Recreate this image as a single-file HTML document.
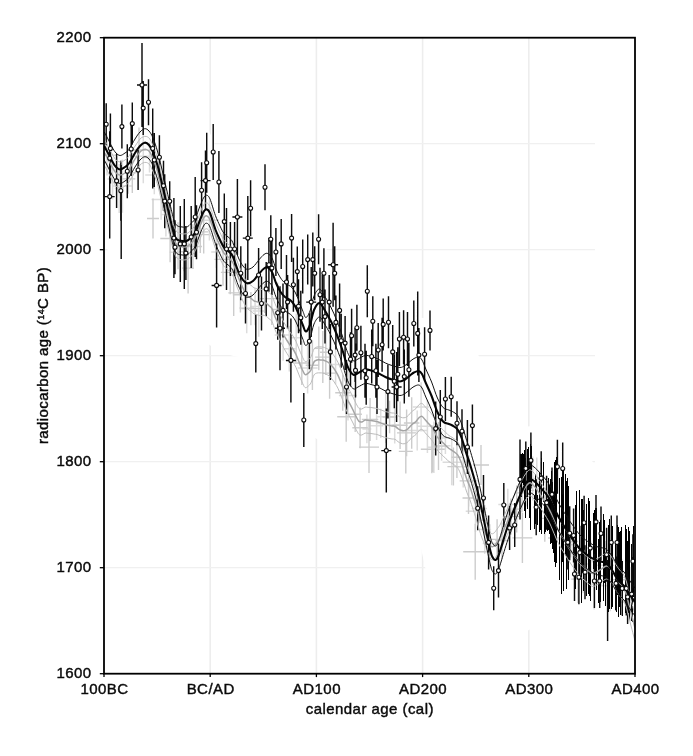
<!DOCTYPE html>
<html lang="en"><head><meta charset="utf-8"><title>Radiocarbon calibration curve</title>
<style>html,body{margin:0;padding:0;background:#fff}body{width:693px;height:756px;overflow:hidden}svg{display:block}text{font-family:"Liberation Sans",Arial,Helvetica,sans-serif;font-size:15px;letter-spacing:0.45px;fill:#0a0a0a;stroke:#0a0a0a;stroke-width:0.42px}</style></head><body>
<svg width="693" height="756" viewBox="0 0 693 756">
<rect width="693" height="756" fill="#fff"/>
<defs><clipPath id="c"><rect x="104.0" y="37.7" width="531.0" height="636.0"/></clipPath></defs>
<g stroke="#ededed" stroke-width="1.6" fill="none">
<line x1="210.2" y1="37.7" x2="210.2" y2="673.7"/>
<line x1="316.4" y1="37.7" x2="316.4" y2="673.7"/>
<line x1="422.6" y1="37.7" x2="422.6" y2="673.7"/>
<line x1="528.8" y1="37.7" x2="528.8" y2="673.7"/>
</g>
<g stroke="#f0f0f0" stroke-width="1.2" fill="none">
<line x1="104.0" y1="143.7" x2="595.0" y2="143.7"/>
<line x1="104.0" y1="249.7" x2="595.0" y2="249.7"/>
<line x1="104.0" y1="355.7" x2="595.0" y2="355.7"/>
<line x1="104.0" y1="461.7" x2="595.0" y2="461.7"/>
<line x1="104.0" y1="567.7" x2="595.0" y2="567.7"/>
</g>
<g clip-path="url(#c)">
<path d="M104.3 146.0C106.2 149.5 111.9 164.1 116.0 167.0C120.1 169.9 124.1 167.6 128.9 163.5C133.7 159.4 139.9 142.3 144.7 142.7C149.5 143.1 152.8 150.8 157.7 166.0C162.6 181.2 169.1 221.5 173.9 234.0C178.7 246.5 182.2 243.3 186.6 241.0C190.9 238.7 196.1 224.7 200.0 220.0C203.9 215.3 206.0 208.4 210.0 213.0C214.0 217.6 219.3 237.7 224.1 247.5C228.8 257.3 233.7 266.4 238.5 272.0C243.3 277.6 248.1 281.8 253.0 281.0C257.9 280.2 263.2 265.7 267.8 267.5C272.4 269.3 276.1 285.6 280.6 292.0C285.1 298.4 290.8 299.4 295.0 306.0C299.2 312.6 301.8 332.0 305.9 331.5C309.9 331.0 314.1 302.4 319.3 303.0C324.5 303.6 332.0 323.8 337.0 335.0C342.0 346.2 344.6 364.2 349.3 370.0C354.0 375.8 359.2 368.3 365.2 369.5C371.2 370.7 378.8 375.3 385.4 377.0C392.0 378.7 399.5 380.5 405.0 379.5C410.5 378.5 414.2 368.2 418.6 371.0C423.0 373.8 426.6 387.2 431.6 396.0C436.7 404.8 443.8 416.8 448.9 424.0C454.0 431.2 457.2 427.8 462.0 439.0C466.8 450.2 472.5 471.7 477.7 491.5C482.9 511.3 489.1 548.6 493.0 558.0C496.9 567.4 496.2 559.0 501.0 548.0C505.8 537.0 516.1 503.2 521.6 492.0C527.1 480.8 527.8 476.8 534.0 481.0C540.2 485.2 549.3 504.3 558.6 517.0C567.9 529.7 581.1 548.2 590.0 557.0C598.9 565.8 605.3 563.7 612.0 570.0C618.7 576.3 627.0 590.8 630.0 595.0" stroke="#fff" stroke-width="130" fill="none" stroke-linecap="round" stroke-linejoin="round" transform="translate(0 12)"/>
<path d="M97.5 155.3H116.5M107.0 135.3V175.4M107.5 179.0H117.8M112.6 158.3V199.6M114.7 188.6H123.8M119.2 164.0V213.1M112.5 186.1H132.3M122.4 159.6V212.7M133.3 156.3H153.3M143.3 129.4V183.3M143.8 157.5H155.2M149.5 142.6V172.5M145.2 175.1H163.4M154.3 156.1V194.2M151.6 199.6H170.6M161.1 179.5V219.7M161.5 214.4H170.3M165.9 192.2V236.6M169.6 252.3H178.8M174.2 237.5V267.1M199.6 220.2H219.1M209.4 200.0V240.5M211.2 251.9H221.4M216.3 235.9V267.9M239.3 308.1H254.0M246.7 283.0V333.2M250.1 306.5H260.2M255.1 287.7V325.2M252.5 311.1H264.9M258.7 285.5V336.7M274.7 335.1H291.5M283.1 309.4V360.8M283.1 348.7H295.4M289.3 325.8V371.6M289.7 337.8H302.7M296.2 313.5V362.1M297.7 367.9H317.6M307.6 342.5V393.4M330.4 364.5H340.8M335.6 344.9V384.1M338.9 395.5H357.0M348.0 370.4V420.5M362.4 428.9H371.3M366.9 414.5V443.3M369.9 425.7H383.3M376.6 411.4V440.0M375.8 423.4H385.5M380.7 408.8V438.0M376.8 416.7H394.5M385.7 390.2V443.1M389.1 425.1H400.3M394.7 406.6V443.6M407.6 430.5H426.9M417.2 410.5V450.5M412.8 407.0H429.5M421.1 382.3V431.6M417.5 426.2H437.3M427.4 399.5V452.9M428.0 447.2H439.9M433.9 421.4V473.1M432.8 445.8H450.5M441.6 431.0V460.7M440.6 438.0H450.2M445.4 422.1V454.0M442.6 462.3H460.7M451.7 439.3V485.3M455.3 466.8H471.0M463.2 446.0V487.6M465.7 511.2H485.3M475.5 490.4V532.0M471.8 508.5H487.0M479.4 494.2V522.9M478.3 529.4H491.1M484.7 505.0V553.8M482.7 543.6H497.2M489.9 524.3V563.0M498.3 504.4H517.4M507.8 488.8V520.1M523.6 478.5H541.8M532.7 456.5V500.4M528.3 481.9H545.2M536.8 457.4V506.5M535.9 488.7H546.5M541.2 461.7V515.7M550.2 513.7H558.4M554.3 497.1V530.4M554.4 539.5H568.4M561.4 515.6V563.4M565.5 553.0H583.6M574.6 526.1V579.9M576.0 573.7H590.2M583.1 554.1V593.3M581.1 564.1H591.3M586.2 544.2V584.0M585.8 557.7H596.2M591.0 541.6V573.9M585.8 584.3H602.3M594.1 559.1V609.5M591.3 561.8H606.5M598.9 541.2V582.3M597.0 565.2H614.0M605.5 541.1V589.4M601.0 585.8H619.7M610.3 560.4V611.2M617.8 577.4H626.0M621.9 558.8V596.0M619.7 602.2H635.7M627.7 583.8V620.6" stroke="#dcdcdc" stroke-width="1.5" fill="none"/>
<path d="M121.0 178.9H135.3M128.2 164.1V193.7M128.1 172.9H136.4M132.3 152.8V192.9M132.1 150.0H146.0M139.0 127.4V172.6M160.3 238.5H179.9M170.1 214.6V262.3M172.9 245.7H183.2M178.0 222.2V269.2M179.2 251.7H188.6M183.9 232.3V271.2M182.3 268.1H193.9M188.1 242.6V293.6M183.8 246.5H202.0M192.9 224.2V268.9M191.7 234.6H209.0M200.3 216.3V252.9M199.1 231.9H208.2M203.7 210.3V253.4M214.5 259.4H231.4M223.0 233.2V285.7M220.9 272.4H239.5M230.2 250.6V294.2M228.3 292.9H239.1M233.7 269.7V316.0M232.8 294.7H248.0M240.4 276.9V312.5M241.4 308.6H260.4M250.9 292.0V325.3M259.8 298.6H269.5M264.7 284.1V313.0M263.6 298.6H280.0M271.8 272.0V325.1M271.7 309.5H283.5M277.6 282.5V336.5M294.3 363.0H309.3M301.8 341.1V384.9M305.7 365.2H319.0M312.4 340.3V390.1M314.6 348.4H322.9M318.8 326.6V370.2M315.1 357.1H330.5M322.8 331.1V383.0M320.0 352.2H331.7M325.8 329.4V375.0M323.0 373.1H336.3M329.6 347.5V398.7M335.2 392.7H350.2M342.7 374.6V410.8M348.5 414.3H361.9M355.2 396.7V431.9M352.3 427.8H367.8M360.1 407.4V448.2M361.8 419.4H378.3M370.1 398.0V440.9M382.7 417.0H396.4M389.6 400.7V433.3M392.4 425.3H407.7M400.1 401.5V449.1M397.0 432.9H416.2M406.6 409.5V456.3M403.9 423.0H419.4M411.7 397.2V448.8M431.2 446.1H445.8M438.5 422.1V470.1M451.5 457.2H462.2M456.9 436.3V478.0M459.6 480.9H477.7M468.7 455.2V506.6M491.5 539.4H502.7M497.1 519.3V559.6M495.2 540.6H508.9M502.0 522.4V558.7M502.8 516.6H519.1M510.9 498.4V534.7M512.1 509.1H521.4M516.7 485.6V532.6M514.8 492.9H529.2M522.0 473.2V512.6M519.7 490.4H534.1M526.9 474.3V506.5M539.4 518.4H550.2M544.8 494.9V541.8M539.5 511.5H557.0M548.2 495.8V527.1M562.4 544.8H572.6M567.5 529.9V559.7M563.3 541.5H578.1M570.7 525.6V557.4M571.2 579.1H584.8M578.0 555.1V603.0M608.5 579.7H625.1M616.8 564.8V594.6M463.2 551.7H487.2M475.2 523.7V579.7M473.0 465.0H489.0M481.0 445.0V485.0M421.8 449.2H441.8M431.8 425.2V473.2M512.4 537.9H532.4M522.4 512.9V562.9M337.2 416.8H355.2M346.2 391.8V441.8M359.0 447.1H379.0M369.0 421.1V473.1M398.8 451.4H412.8M405.8 429.4V473.4M420.8 449.3H444.8M432.8 426.3V472.3M447.4 466.6H459.4M453.4 447.6V485.6M462.5 498.0H474.5M468.5 482.0V514.0M147.0 218.5H159.0M153.0 198.5V238.5M548.0 538.0H564.0M556.0 516.0V560.0" stroke="#cccccc" stroke-width="1.4" fill="none"/>
<path d="M520.5 453.5V487.1M521.5 453.5V496.7M522.5 452.7V482.7M523.5 454.4V485.4M524.5 449.6V510.7M525.5 458.2V518.2M527.5 448.9V508.7M528.5 446.6V490.2M529.5 462.2V518.4M530.5 443.5V529.9M531.5 445.5V486.1M534.5 495.1V529.2M535.5 474.0V523.8M537.5 494.9V524.9M539.5 471.9V531.8M540.5 497.7V530.1M541.5 457.6V533.6M543.5 462.1V502.2M544.5 504.3V534.3M545.5 500.1V531.8M547.5 499.2V531.3M548.5 477.8V530.1M549.5 484.8V534.4M550.5 479.1V544.4M551.5 470.5V542.9M552.5 481.7V548.8M553.5 493.5V552.9M554.5 461.6V562.1M555.5 460.2V566.6M556.5 456.8V562.5M559.5 478.3V580.1M561.5 476.5V593.7M562.5 455.1V561.6M563.5 467.9V591.4M565.5 474.0V555.9M566.5 481.4V589.0M567.5 477.9V556.8M568.5 485.5V579.5M575.5 504.7V588.9M576.5 490.6V573.2M579.5 489.7V563.4M581.5 499.3V602.7M582.5 498.7V572.5M583.5 509.5V591.4M586.5 503.6V595.6M588.5 497.6V593.9M589.5 500.6V596.3M590.5 523.2V601.1M593.5 513.0V568.5M594.5 510.3V601.5M595.5 507.7V572.2M596.5 507.8V589.8M598.5 539.0V602.7M599.5 522.4V572.2M600.5 519.6V601.9M603.5 514.2V601.0M604.5 520.0V582.6M605.5 557.1V605.5M608.5 525.2V611.5M609.5 519.0V609.2M611.5 527.5V608.6M612.5 525.7V607.1M615.5 541.3V610.4M616.5 559.9V611.5M617.5 524.7V594.5M618.5 526.9V616.6M619.5 531.7V607.4M620.5 531.2V615.3M621.5 527.4V590.8M622.5 560.6V615.9M625.5 525.0V612.5M626.5 529.0V608.2M627.5 541.4V612.3M628.5 527.2V613.3M629.5 530.9V620.0M631.5 543.9V614.6M632.5 557.0V621.8M633.5 525.6V596.8" stroke="#000" stroke-width="1" fill="none" shape-rendering="crispEdges"/>
<path d="M106.2 103.3V145.3M110.4 113.5V183.5M109.7 131.2V185.2M116.6 153.9V207.9M109.7 154.6V238.6M104.7 196.6H114.7M121.9 104.6V148.6M120.8 160.8V220.8M127.3 144.2V198.2M132.3 102.6V144.6M131.2 122.0V176.0M138.1 150.0V190.0M142.0 43.0V127.0M137.0 85.0H147.0M143.2 81.1V135.1M148.5 79.3V125.3M152.7 108.5V188.5M154.3 133.0V187.0M159.4 135.3V179.3M163.5 160.8V210.8M164.7 174.2V228.2M169.7 181.2V221.2M195.2 177.0V257.0M201.6 162.2V218.2M205.5 150.6V210.6M200.5 180.6H210.5M206.7 132.8V192.8M213.2 124.0V180.0M218.9 151.0V213.0M224.3 193.6V249.6M237.4 179.0V255.0M232.4 217.0H242.4M250.6 180.3V236.3M173.9 198.1V278.1M175.0 220.3V274.3M180.3 205.9V281.9M184.3 198.9V288.9M185.9 226.1V280.1M191.2 206.0V268.0M196.5 205.3V259.3M216.6 243.4V327.4M211.6 285.4H221.6M226.5 208.0V290.0M230.4 222.0V276.0M234.6 222.0V276.0M240.8 246.2V300.2M245.5 263.5V323.5M247.8 196.1V280.1M242.8 238.1H252.8M258.6 248.0V302.0M265.0 164.3V210.3M270.8 215.3V263.3M275.9 228.0V276.0M281.2 218.9V268.9M291.6 214.1V262.1M268.9 237.7V291.7M271.9 241.1V295.1M266.2 261.9V315.9M261.5 276.5V330.5M286.5 255.0V309.0M293.4 257.8V311.8M297.3 246.6V296.6M302.7 239.5V293.5M307.7 234.6V284.6M312.8 232.6V286.6M314.7 246.2V300.2M318.6 214.3V264.3M323.9 248.2V298.2M320.0 267.7V321.7M311.2 267.1V337.1M306.2 302.1H316.2M322.3 275.1V329.1M329.2 275.1V329.1M333.1 222.7V306.7M328.1 264.7H338.1M334.7 246.2V300.2M287.6 275.1V329.1M298.5 279.2V333.2M277.7 285.7V339.7M283.0 283.4V337.4M300.8 290.8V344.8M280.0 286.2V370.2M275.0 328.2H285.0M325.0 289.6V343.6M339.6 283.4V337.4M335.9 295.4V349.4M367.3 265.2V317.2M372.8 296.2V346.2M383.2 298.4V350.4M388.5 296.2V348.2M356.9 304.7V350.7M255.8 314.6V372.6M290.9 318.4V402.4M285.9 360.4H295.9M309.4 313.3V369.3M303.8 393.0V447.0M330.4 323.9V379.9M341.2 313.8V367.8M345.1 316.1V370.1M346.5 360.0V414.0M351.6 308.7V362.7M350.5 332.3V386.3M355.1 328.1V382.1M355.5 343.4V397.4M360.9 325.8V379.8M365.0 343.8V397.8M366.2 350.8V404.8M371.7 329.5V383.5M375.9 343.8V397.8M377.0 360.0V414.0M378.2 323.0V377.0M382.1 317.7V371.7M387.9 364.6V418.6M392.7 324.9V378.9M394.3 354.2V408.2M396.6 352.0V422.0M391.6 387.0H401.6M397.8 347.3V401.3M399.4 312.0V366.0M403.6 310.3V364.3M404.3 349.6V403.6M407.5 312.0V366.0M408.9 342.7V396.7M413.8 300.5V346.5M417.7 291.4V375.4M418.9 328.1V382.1M424.6 327.2V381.2M430.0 310.4V350.4M445.4 377.0V421.0M451.2 376.7V416.7M440.3 390.0V444.0M435.7 401.6V455.6M457.0 401.3V445.3M462.0 409.3V453.3M472.4 404.6V446.6M467.4 420.0V474.0M386.3 408.6V492.6M381.3 450.6H391.3M483.5 475.0V521.0M477.7 486.2V530.2M488.6 515.4V569.4M493.7 566.3V610.3M498.5 543.6V597.6M503.8 483.0V527.0M509.6 506.0V550.0M514.7 503.0V547.0M520.0 439.4V519.4M525.8 441.5V495.5M530.9 432.4V488.4M536.2 479.3V535.3M541.2 451.2V505.2M546.6 475.7V529.7M552.0 467.4V521.4M557.4 439.7V493.7M562.7 442.5V494.5M567.8 515.4V569.4M569.7 506.2V560.2M573.6 508.5V562.5M574.5 547.0V601.0M578.9 550.2V604.2M584.1 495.8V549.8M596.0 494.9V548.9M601.0 506.5V560.5M611.3 515.5V569.5M617.0 515.5V569.5M590.3 521.1V575.1M579.8 525.8V579.8M606.6 527.7V581.7M632.9 534.3V588.3M585.0 545.2V599.2M594.4 554.0V608.0M599.7 554.0V608.0M616.0 556.4V610.4M622.2 561.5V615.5M626.3 561.5V615.5M631.6 567.1V621.1M627.6 570.0V624.0M607.6 560V641M121.2 165V259" stroke="#0c0c0c" stroke-width="1.45" fill="none"/>
<path d="M104.0 139.0C104.5 139.9 106.0 142.3 107.0 144.1C108.0 145.9 109.0 148.1 110.0 150.0C111.0 151.9 112.0 153.8 113.0 155.5C114.0 157.2 115.0 159.0 116.0 160.0C117.0 161.0 118.0 161.5 119.0 161.8C120.0 162.0 121.0 161.9 122.0 161.6C123.0 161.3 124.0 160.7 125.0 160.0C126.0 159.3 127.0 158.5 128.0 157.3C129.0 156.1 130.0 154.5 131.0 152.9C132.0 151.3 133.0 149.3 134.0 147.7C135.0 146.1 136.0 144.7 137.0 143.2C138.0 141.7 139.0 140.1 140.0 139.0C141.0 137.9 142.0 137.3 143.0 136.9C144.0 136.5 145.0 136.2 146.0 136.4C147.0 136.6 148.0 136.9 149.0 138.0C150.0 139.1 151.0 141.1 152.0 143.2C153.0 145.4 154.0 148.1 155.0 151.0C156.0 153.8 157.0 156.6 158.0 160.2C159.0 163.9 160.0 168.5 161.0 172.7C162.0 176.9 163.0 181.0 164.0 185.3C165.0 189.5 166.0 193.9 167.0 198.1C168.0 202.4 169.0 206.7 170.0 210.9C171.0 215.1 172.0 220.0 173.0 223.3C174.0 226.6 175.0 229.1 176.0 230.7C177.0 232.4 178.0 232.7 179.0 233.2C180.0 233.7 181.0 233.7 182.0 233.8C183.0 234.0 184.0 234.1 185.0 233.9C186.0 233.8 187.0 233.6 188.0 233.0C189.0 232.4 190.0 231.4 191.0 230.3C192.0 229.3 193.0 228.5 194.0 226.9C195.0 225.3 196.0 223.1 197.0 220.8C198.0 218.5 199.0 215.4 200.0 213.0C201.0 210.6 202.0 207.9 203.0 206.1C204.0 204.4 205.0 202.9 206.0 202.7C207.0 202.5 208.0 203.3 209.0 204.9C210.0 206.5 211.0 209.4 212.0 212.1C213.0 214.8 214.0 218.6 215.0 221.3C216.0 224.0 217.0 226.2 218.0 228.4C219.0 230.7 220.0 232.8 221.0 234.8C222.0 236.8 223.0 239.0 224.0 240.3C225.0 241.7 226.0 242.1 227.0 243.0C228.0 243.9 229.0 244.7 230.0 245.9C231.0 247.1 232.0 248.0 233.0 250.0C234.0 252.1 235.0 255.6 236.0 258.2C237.0 260.8 238.0 263.4 239.0 265.9C240.0 268.4 241.0 270.8 242.0 273.0C243.0 275.2 244.0 277.4 245.0 279.1C246.0 280.8 247.0 282.1 248.0 283.2C249.0 284.2 250.0 284.5 251.0 285.3C252.0 286.1 253.0 287.2 254.0 287.8C255.0 288.4 256.0 288.3 257.0 288.7C258.0 289.0 259.0 289.6 260.0 289.7C261.0 289.8 262.0 289.1 263.0 289.2C264.0 289.3 265.0 289.6 266.0 290.2C267.0 290.8 268.0 291.8 269.0 292.7C270.0 293.6 271.0 293.8 272.0 295.7C273.0 297.5 274.0 301.3 275.0 303.7C276.0 306.1 277.0 308.0 278.0 310.1C279.0 312.2 280.0 314.3 281.0 316.4C282.0 318.4 283.0 320.6 284.0 322.5C285.0 324.3 286.0 325.9 287.0 327.5C288.0 329.1 289.0 330.7 290.0 332.1C291.0 333.5 292.0 334.5 293.0 336.0C294.0 337.6 295.0 339.3 296.0 341.5C297.0 343.6 298.0 346.5 299.0 348.9C300.0 351.3 301.0 354.0 302.0 356.0C303.0 358.1 304.0 360.8 305.0 361.5C306.0 362.2 307.0 361.1 308.0 360.3C309.0 359.5 310.0 358.7 311.0 356.8C312.0 354.9 313.0 350.6 314.0 349.0C315.0 347.4 316.0 347.4 317.0 347.0C318.0 346.7 319.0 346.9 320.0 346.9C321.0 346.9 322.0 346.8 323.0 347.1C324.0 347.3 325.0 347.7 326.0 348.2C327.0 348.7 328.0 349.0 329.0 349.8C330.0 350.6 331.0 351.8 332.0 353.1C333.0 354.3 334.0 355.7 335.0 357.2C336.0 358.8 337.0 360.3 338.0 362.4C339.0 364.5 340.0 367.1 341.0 369.6C342.0 372.2 343.0 375.0 344.0 377.7C345.0 380.4 346.0 383.6 347.0 385.8C348.0 388.1 349.0 389.4 350.0 391.2C351.0 393.1 352.0 395.0 353.0 397.0C354.0 399.0 355.0 401.5 356.0 403.4C357.0 405.3 358.0 407.5 359.0 408.4C360.0 409.3 361.0 409.1 362.0 408.9C363.0 408.7 364.0 407.4 365.0 407.1C366.0 406.9 367.0 407.2 368.0 407.3C369.0 407.3 370.0 407.4 371.0 407.5C372.0 407.6 373.0 407.8 374.0 408.0C375.0 408.2 376.0 408.2 377.0 408.5C378.0 408.8 379.0 409.2 380.0 409.6C381.0 410.0 382.0 410.4 383.0 410.7C384.0 411.1 385.0 411.5 386.0 411.7C387.0 412.0 388.0 412.2 389.0 412.4C390.0 412.6 391.0 412.9 392.0 413.0C393.0 413.1 394.0 412.8 395.0 413.3C396.0 413.7 397.0 415.0 398.0 415.7C399.0 416.3 400.0 417.0 401.0 417.3C402.0 417.7 403.0 417.9 404.0 417.8C405.0 417.7 406.0 417.4 407.0 416.7C408.0 416.0 409.0 414.6 410.0 413.6C411.0 412.5 412.0 411.4 413.0 410.6C414.0 409.8 415.0 409.5 416.0 408.5C417.0 407.5 418.0 405.6 419.0 404.7C420.0 403.9 421.0 403.1 422.0 403.4C423.0 403.7 424.0 405.5 425.0 406.6C426.0 407.7 427.0 408.8 428.0 409.9C429.0 411.0 430.0 411.9 431.0 413.2C432.0 414.4 433.0 415.9 434.0 417.6C435.0 419.4 436.0 422.2 437.0 423.7C438.0 425.3 439.0 426.0 440.0 427.0C441.0 428.0 442.0 428.9 443.0 429.8C444.0 430.8 445.0 431.8 446.0 432.8C447.0 433.7 448.0 434.8 449.0 435.5C450.0 436.3 451.0 436.7 452.0 437.3C453.0 438.0 454.0 438.7 455.0 439.5C456.0 440.3 457.0 440.8 458.0 442.4C459.0 443.9 460.0 446.3 461.0 448.8C462.0 451.4 463.0 454.7 464.0 457.7C465.0 460.7 466.0 464.1 467.0 466.8C468.0 469.5 469.0 471.3 470.0 474.0C471.0 476.7 472.0 480.1 473.0 483.2C474.0 486.3 475.0 489.1 476.0 492.4C477.0 495.7 478.0 499.8 479.0 503.0C480.0 506.3 481.0 509.3 482.0 512.0C483.0 514.7 484.0 516.7 485.0 519.2C486.0 521.6 487.0 524.3 488.0 526.6C489.0 529.0 490.0 532.2 491.0 533.2C492.0 534.3 493.0 533.7 494.0 533.0C495.0 532.4 496.0 530.5 497.0 529.2C498.0 527.9 499.0 526.8 500.0 525.0C501.0 523.2 502.0 520.8 503.0 518.5C504.0 516.3 505.0 513.9 506.0 511.6C507.0 509.4 508.0 507.1 509.0 505.1C510.0 503.1 511.0 501.4 512.0 499.6C513.0 497.8 514.0 496.2 515.0 494.3C516.0 492.4 517.0 490.2 518.0 488.1C519.0 486.0 520.0 483.9 521.0 481.9C522.0 479.9 523.0 478.0 524.0 476.3C525.0 474.7 526.0 473.1 527.0 472.0C528.0 470.9 529.0 469.8 530.0 469.8C531.0 469.8 532.0 471.1 533.0 472.0C534.0 472.9 535.0 474.1 536.0 475.4C537.0 476.7 538.0 478.1 539.0 479.6C540.0 481.0 541.0 482.6 542.0 484.2C543.0 485.8 544.0 487.5 545.0 489.1C546.0 490.7 547.0 492.1 548.0 494.0C549.0 495.8 550.0 497.9 551.0 500.1C552.0 502.4 553.0 504.9 554.0 507.3C555.0 509.7 556.0 512.3 557.0 514.4C558.0 516.6 559.0 518.5 560.0 520.3C561.0 522.1 562.0 523.6 563.0 525.2C564.0 526.9 565.0 528.5 566.0 530.1C567.0 531.8 568.0 533.5 569.0 535.0C570.0 536.6 571.0 538.1 572.0 539.5C573.0 540.9 574.0 542.3 575.0 543.7C576.0 545.1 577.0 546.5 578.0 547.8C579.0 549.1 580.0 550.4 581.0 551.5C582.0 552.5 583.0 553.1 584.0 553.9C585.0 554.8 586.0 555.6 587.0 556.4C588.0 557.3 589.0 558.2 590.0 558.9C591.0 559.6 592.0 560.5 593.0 560.5C594.0 560.5 595.0 559.7 596.0 559.2C597.0 558.7 598.0 558.2 599.0 557.6C600.0 557.0 601.0 556.2 602.0 555.6C603.0 554.9 604.0 553.9 605.0 553.5C606.0 553.1 607.0 552.8 608.0 553.3C609.0 553.7 610.0 554.8 611.0 556.1C612.0 557.4 613.0 559.2 614.0 561.0C615.0 562.7 616.0 564.8 617.0 566.3C618.0 567.9 619.0 569.1 620.0 570.4C621.0 571.6 622.0 572.1 623.0 573.8C624.0 575.4 625.0 577.3 626.0 580.4C627.0 583.5 628.0 588.2 629.0 592.1C630.0 596.0 631.0 599.8 632.0 603.6C633.0 607.4 634.5 613.1 635.0 615.0" stroke="#bcbcbc" stroke-width="1" fill="none"/>
<path d="M104.0 165.0C104.5 165.9 106.0 168.3 107.0 170.1C108.0 171.9 109.0 174.1 110.0 176.0C111.0 177.9 112.0 179.8 113.0 181.5C114.0 183.2 115.0 185.0 116.0 186.0C117.0 187.0 118.0 187.5 119.0 187.8C120.0 188.0 121.0 187.9 122.0 187.6C123.0 187.3 124.0 186.7 125.0 186.0C126.0 185.3 127.0 184.5 128.0 183.3C129.0 182.1 130.0 180.5 131.0 178.9C132.0 177.3 133.0 175.3 134.0 173.7C135.0 172.1 136.0 170.7 137.0 169.2C138.0 167.7 139.0 166.1 140.0 165.0C141.0 163.9 142.0 163.3 143.0 162.9C144.0 162.5 145.0 162.2 146.0 162.4C147.0 162.6 148.0 162.9 149.0 164.0C150.0 165.1 151.0 167.1 152.0 169.2C153.0 171.4 154.0 174.1 155.0 177.0C156.0 179.8 157.0 182.6 158.0 186.2C159.0 189.9 160.0 194.5 161.0 198.7C162.0 202.9 163.0 207.0 164.0 211.3C165.0 215.5 166.0 219.9 167.0 224.1C168.0 228.4 169.0 232.7 170.0 236.9C171.0 241.1 172.0 246.0 173.0 249.3C174.0 252.6 175.0 255.1 176.0 256.7C177.0 258.4 178.0 258.7 179.0 259.2C180.0 259.7 181.0 259.7 182.0 259.8C183.0 260.0 184.0 260.1 185.0 259.9C186.0 259.8 187.0 259.6 188.0 259.0C189.0 258.4 190.0 257.4 191.0 256.3C192.0 255.3 193.0 254.5 194.0 252.9C195.0 251.3 196.0 249.1 197.0 246.8C198.0 244.5 199.0 241.4 200.0 239.0C201.0 236.6 202.0 233.9 203.0 232.1C204.0 230.4 205.0 228.9 206.0 228.7C207.0 228.5 208.0 229.3 209.0 230.9C210.0 232.5 211.0 235.4 212.0 238.1C213.0 240.8 214.0 244.6 215.0 247.3C216.0 250.0 217.0 252.2 218.0 254.4C219.0 256.7 220.0 258.8 221.0 260.8C222.0 262.8 223.0 265.0 224.0 266.3C225.0 267.7 226.0 268.1 227.0 269.0C228.0 269.9 229.0 270.7 230.0 271.9C231.0 273.1 232.0 274.0 233.0 276.0C234.0 278.1 235.0 281.6 236.0 284.2C237.0 286.8 238.0 289.4 239.0 291.9C240.0 294.4 241.0 296.8 242.0 299.0C243.0 301.2 244.0 303.4 245.0 305.1C246.0 306.8 247.0 308.1 248.0 309.2C249.0 310.2 250.0 310.5 251.0 311.3C252.0 312.1 253.0 313.2 254.0 313.8C255.0 314.4 256.0 314.3 257.0 314.7C258.0 315.0 259.0 315.6 260.0 315.7C261.0 315.8 262.0 315.1 263.0 315.2C264.0 315.3 265.0 315.6 266.0 316.2C267.0 316.8 268.0 317.8 269.0 318.7C270.0 319.6 271.0 319.8 272.0 321.7C273.0 323.5 274.0 327.3 275.0 329.7C276.0 332.1 277.0 334.0 278.0 336.1C279.0 338.2 280.0 340.3 281.0 342.4C282.0 344.4 283.0 346.6 284.0 348.5C285.0 350.3 286.0 351.9 287.0 353.5C288.0 355.1 289.0 356.7 290.0 358.1C291.0 359.5 292.0 360.5 293.0 362.0C294.0 363.6 295.0 365.3 296.0 367.5C297.0 369.6 298.0 372.5 299.0 374.9C300.0 377.3 301.0 380.0 302.0 382.0C303.0 384.1 304.0 386.8 305.0 387.5C306.0 388.2 307.0 387.1 308.0 386.3C309.0 385.5 310.0 384.7 311.0 382.8C312.0 380.9 313.0 376.6 314.0 375.0C315.0 373.4 316.0 373.4 317.0 373.0C318.0 372.7 319.0 372.9 320.0 372.9C321.0 372.9 322.0 372.8 323.0 373.1C324.0 373.3 325.0 373.7 326.0 374.2C327.0 374.7 328.0 375.0 329.0 375.8C330.0 376.6 331.0 377.8 332.0 379.1C333.0 380.3 334.0 381.7 335.0 383.2C336.0 384.8 337.0 386.3 338.0 388.4C339.0 390.5 340.0 393.1 341.0 395.6C342.0 398.2 343.0 401.0 344.0 403.7C345.0 406.4 346.0 409.6 347.0 411.8C348.0 414.1 349.0 415.4 350.0 417.2C351.0 419.1 352.0 421.0 353.0 423.0C354.0 425.0 355.0 427.5 356.0 429.4C357.0 431.3 358.0 433.5 359.0 434.4C360.0 435.3 361.0 435.1 362.0 434.9C363.0 434.7 364.0 433.4 365.0 433.1C366.0 432.9 367.0 433.2 368.0 433.3C369.0 433.3 370.0 433.4 371.0 433.5C372.0 433.6 373.0 433.8 374.0 434.0C375.0 434.2 376.0 434.2 377.0 434.5C378.0 434.8 379.0 435.2 380.0 435.6C381.0 436.0 382.0 436.4 383.0 436.7C384.0 437.1 385.0 437.5 386.0 437.7C387.0 438.0 388.0 438.2 389.0 438.4C390.0 438.6 391.0 438.9 392.0 439.0C393.0 439.1 394.0 438.8 395.0 439.3C396.0 439.7 397.0 441.0 398.0 441.7C399.0 442.3 400.0 443.0 401.0 443.3C402.0 443.7 403.0 443.9 404.0 443.8C405.0 443.7 406.0 443.4 407.0 442.7C408.0 442.0 409.0 440.6 410.0 439.6C411.0 438.5 412.0 437.4 413.0 436.6C414.0 435.8 415.0 435.5 416.0 434.5C417.0 433.5 418.0 431.6 419.0 430.7C420.0 429.9 421.0 429.1 422.0 429.4C423.0 429.7 424.0 431.5 425.0 432.6C426.0 433.7 427.0 434.8 428.0 435.9C429.0 437.0 430.0 437.9 431.0 439.2C432.0 440.4 433.0 441.9 434.0 443.6C435.0 445.4 436.0 448.2 437.0 449.7C438.0 451.3 439.0 452.0 440.0 453.0C441.0 454.0 442.0 454.9 443.0 455.8C444.0 456.8 445.0 457.8 446.0 458.8C447.0 459.7 448.0 460.8 449.0 461.5C450.0 462.3 451.0 462.7 452.0 463.3C453.0 464.0 454.0 464.7 455.0 465.5C456.0 466.3 457.0 466.8 458.0 468.4C459.0 469.9 460.0 472.3 461.0 474.8C462.0 477.4 463.0 480.7 464.0 483.7C465.0 486.7 466.0 490.1 467.0 492.8C468.0 495.5 469.0 497.3 470.0 500.0C471.0 502.7 472.0 506.1 473.0 509.2C474.0 512.3 475.0 515.1 476.0 518.4C477.0 521.7 478.0 525.8 479.0 529.0C480.0 532.3 481.0 535.3 482.0 538.0C483.0 540.7 484.0 542.7 485.0 545.2C486.0 547.6 487.0 550.3 488.0 552.6C489.0 555.0 490.0 558.2 491.0 559.2C492.0 560.3 493.0 559.7 494.0 559.0C495.0 558.4 496.0 556.5 497.0 555.2C498.0 553.9 499.0 552.8 500.0 551.0C501.0 549.2 502.0 546.8 503.0 544.5C504.0 542.3 505.0 539.9 506.0 537.6C507.0 535.4 508.0 533.1 509.0 531.1C510.0 529.1 511.0 527.4 512.0 525.6C513.0 523.8 514.0 522.2 515.0 520.3C516.0 518.4 517.0 516.2 518.0 514.1C519.0 512.0 520.0 509.9 521.0 507.9C522.0 505.9 523.0 504.0 524.0 502.3C525.0 500.7 526.0 499.1 527.0 498.0C528.0 496.9 529.0 495.8 530.0 495.8C531.0 495.8 532.0 497.1 533.0 498.0C534.0 498.9 535.0 500.1 536.0 501.4C537.0 502.7 538.0 504.1 539.0 505.6C540.0 507.0 541.0 508.6 542.0 510.2C543.0 511.8 544.0 513.5 545.0 515.1C546.0 516.7 547.0 518.1 548.0 520.0C549.0 521.8 550.0 523.9 551.0 526.1C552.0 528.4 553.0 530.9 554.0 533.3C555.0 535.7 556.0 538.3 557.0 540.4C558.0 542.6 559.0 544.5 560.0 546.3C561.0 548.1 562.0 549.6 563.0 551.2C564.0 552.9 565.0 554.5 566.0 556.1C567.0 557.8 568.0 559.5 569.0 561.0C570.0 562.6 571.0 564.1 572.0 565.5C573.0 566.9 574.0 568.3 575.0 569.7C576.0 571.1 577.0 572.5 578.0 573.8C579.0 575.1 580.0 576.4 581.0 577.5C582.0 578.5 583.0 579.1 584.0 579.9C585.0 580.8 586.0 581.6 587.0 582.4C588.0 583.3 589.0 584.2 590.0 584.9C591.0 585.6 592.0 586.5 593.0 586.5C594.0 586.5 595.0 585.7 596.0 585.2C597.0 584.7 598.0 584.2 599.0 583.6C600.0 583.0 601.0 582.2 602.0 581.6C603.0 580.9 604.0 579.9 605.0 579.5C606.0 579.1 607.0 578.8 608.0 579.3C609.0 579.7 610.0 580.8 611.0 582.1C612.0 583.4 613.0 585.2 614.0 587.0C615.0 588.7 616.0 590.8 617.0 592.3C618.0 593.9 619.0 595.1 620.0 596.4C621.0 597.6 622.0 598.1 623.0 599.8C624.0 601.4 625.0 603.3 626.0 606.4C627.0 609.5 628.0 614.2 629.0 618.1C630.0 622.0 631.0 625.8 632.0 629.6C633.0 633.4 634.5 639.1 635.0 641.0" stroke="#bcbcbc" stroke-width="1" fill="none"/>
<path d="M104.0 152.0C104.5 152.9 106.0 155.3 107.0 157.1C108.0 158.9 109.0 161.1 110.0 163.0C111.0 164.9 112.0 166.8 113.0 168.5C114.0 170.2 115.0 172.0 116.0 173.0C117.0 174.0 118.0 174.5 119.0 174.8C120.0 175.0 121.0 174.9 122.0 174.6C123.0 174.3 124.0 173.7 125.0 173.0C126.0 172.3 127.0 171.5 128.0 170.3C129.0 169.1 130.0 167.5 131.0 165.9C132.0 164.3 133.0 162.3 134.0 160.7C135.0 159.1 136.0 157.7 137.0 156.2C138.0 154.7 139.0 153.1 140.0 152.0C141.0 150.9 142.0 150.3 143.0 149.9C144.0 149.5 145.0 149.2 146.0 149.4C147.0 149.6 148.0 149.9 149.0 151.0C150.0 152.1 151.0 154.1 152.0 156.2C153.0 158.4 154.0 161.1 155.0 164.0C156.0 166.8 157.0 169.6 158.0 173.2C159.0 176.9 160.0 181.5 161.0 185.7C162.0 189.9 163.0 194.0 164.0 198.3C165.0 202.5 166.0 206.9 167.0 211.1C168.0 215.4 169.0 219.7 170.0 223.9C171.0 228.1 172.0 233.0 173.0 236.3C174.0 239.6 175.0 242.1 176.0 243.7C177.0 245.4 178.0 245.7 179.0 246.2C180.0 246.7 181.0 246.7 182.0 246.8C183.0 247.0 184.0 247.1 185.0 246.9C186.0 246.8 187.0 246.6 188.0 246.0C189.0 245.4 190.0 244.4 191.0 243.3C192.0 242.3 193.0 241.5 194.0 239.9C195.0 238.3 196.0 236.1 197.0 233.8C198.0 231.5 199.0 228.4 200.0 226.0C201.0 223.6 202.0 220.9 203.0 219.1C204.0 217.4 205.0 215.9 206.0 215.7C207.0 215.5 208.0 216.3 209.0 217.9C210.0 219.5 211.0 222.4 212.0 225.1C213.0 227.8 214.0 231.6 215.0 234.3C216.0 237.0 217.0 239.2 218.0 241.4C219.0 243.7 220.0 245.8 221.0 247.8C222.0 249.8 223.0 252.0 224.0 253.3C225.0 254.7 226.0 255.1 227.0 256.0C228.0 256.9 229.0 257.7 230.0 258.9C231.0 260.1 232.0 261.0 233.0 263.0C234.0 265.1 235.0 268.6 236.0 271.2C237.0 273.8 238.0 276.4 239.0 278.9C240.0 281.4 241.0 283.8 242.0 286.0C243.0 288.2 244.0 290.4 245.0 292.1C246.0 293.8 247.0 295.1 248.0 296.2C249.0 297.2 250.0 297.5 251.0 298.3C252.0 299.1 253.0 300.2 254.0 300.8C255.0 301.4 256.0 301.3 257.0 301.7C258.0 302.0 259.0 302.6 260.0 302.7C261.0 302.8 262.0 302.1 263.0 302.2C264.0 302.3 265.0 302.6 266.0 303.2C267.0 303.8 268.0 304.8 269.0 305.7C270.0 306.6 271.0 306.8 272.0 308.7C273.0 310.5 274.0 314.3 275.0 316.7C276.0 319.1 277.0 321.0 278.0 323.1C279.0 325.2 280.0 327.3 281.0 329.4C282.0 331.4 283.0 333.6 284.0 335.5C285.0 337.3 286.0 338.9 287.0 340.5C288.0 342.1 289.0 343.7 290.0 345.1C291.0 346.5 292.0 347.5 293.0 349.0C294.0 350.6 295.0 352.3 296.0 354.5C297.0 356.6 298.0 359.5 299.0 361.9C300.0 364.3 301.0 367.0 302.0 369.0C303.0 371.1 304.0 373.8 305.0 374.5C306.0 375.2 307.0 374.1 308.0 373.3C309.0 372.5 310.0 371.7 311.0 369.8C312.0 367.9 313.0 363.6 314.0 362.0C315.0 360.4 316.0 360.4 317.0 360.0C318.0 359.7 319.0 359.9 320.0 359.9C321.0 359.9 322.0 359.8 323.0 360.1C324.0 360.3 325.0 360.7 326.0 361.2C327.0 361.7 328.0 362.0 329.0 362.8C330.0 363.6 331.0 364.8 332.0 366.1C333.0 367.3 334.0 368.7 335.0 370.2C336.0 371.8 337.0 373.3 338.0 375.4C339.0 377.5 340.0 380.1 341.0 382.6C342.0 385.2 343.0 388.0 344.0 390.7C345.0 393.4 346.0 396.6 347.0 398.8C348.0 401.1 349.0 402.4 350.0 404.2C351.0 406.1 352.0 408.0 353.0 410.0C354.0 412.0 355.0 414.5 356.0 416.4C357.0 418.3 358.0 420.5 359.0 421.4C360.0 422.3 361.0 422.1 362.0 421.9C363.0 421.7 364.0 420.4 365.0 420.1C366.0 419.9 367.0 420.2 368.0 420.3C369.0 420.3 370.0 420.4 371.0 420.5C372.0 420.6 373.0 420.8 374.0 421.0C375.0 421.2 376.0 421.2 377.0 421.5C378.0 421.8 379.0 422.2 380.0 422.6C381.0 423.0 382.0 423.4 383.0 423.7C384.0 424.1 385.0 424.5 386.0 424.7C387.0 425.0 388.0 425.2 389.0 425.4C390.0 425.6 391.0 425.9 392.0 426.0C393.0 426.1 394.0 425.8 395.0 426.3C396.0 426.7 397.0 428.0 398.0 428.7C399.0 429.3 400.0 430.0 401.0 430.3C402.0 430.7 403.0 430.9 404.0 430.8C405.0 430.7 406.0 430.4 407.0 429.7C408.0 429.0 409.0 427.6 410.0 426.6C411.0 425.5 412.0 424.4 413.0 423.6C414.0 422.8 415.0 422.5 416.0 421.5C417.0 420.5 418.0 418.6 419.0 417.7C420.0 416.9 421.0 416.1 422.0 416.4C423.0 416.7 424.0 418.5 425.0 419.6C426.0 420.7 427.0 421.8 428.0 422.9C429.0 424.0 430.0 424.9 431.0 426.2C432.0 427.4 433.0 428.9 434.0 430.6C435.0 432.4 436.0 435.2 437.0 436.7C438.0 438.3 439.0 439.0 440.0 440.0C441.0 441.0 442.0 441.9 443.0 442.8C444.0 443.8 445.0 444.8 446.0 445.8C447.0 446.7 448.0 447.8 449.0 448.5C450.0 449.3 451.0 449.7 452.0 450.3C453.0 451.0 454.0 451.7 455.0 452.5C456.0 453.3 457.0 453.8 458.0 455.4C459.0 456.9 460.0 459.3 461.0 461.8C462.0 464.4 463.0 467.7 464.0 470.7C465.0 473.7 466.0 477.1 467.0 479.8C468.0 482.5 469.0 484.3 470.0 487.0C471.0 489.7 472.0 493.1 473.0 496.2C474.0 499.3 475.0 502.1 476.0 505.4C477.0 508.7 478.0 512.8 479.0 516.0C480.0 519.3 481.0 522.3 482.0 525.0C483.0 527.7 484.0 529.7 485.0 532.2C486.0 534.6 487.0 537.3 488.0 539.6C489.0 542.0 490.0 545.2 491.0 546.2C492.0 547.3 493.0 546.7 494.0 546.0C495.0 545.4 496.0 543.5 497.0 542.2C498.0 540.9 499.0 539.8 500.0 538.0C501.0 536.2 502.0 533.8 503.0 531.5C504.0 529.3 505.0 526.9 506.0 524.6C507.0 522.4 508.0 520.1 509.0 518.1C510.0 516.1 511.0 514.4 512.0 512.6C513.0 510.8 514.0 509.2 515.0 507.3C516.0 505.4 517.0 503.2 518.0 501.1C519.0 499.0 520.0 496.9 521.0 494.9C522.0 492.9 523.0 491.0 524.0 489.3C525.0 487.7 526.0 486.1 527.0 485.0C528.0 483.9 529.0 482.8 530.0 482.8C531.0 482.8 532.0 484.1 533.0 485.0C534.0 485.9 535.0 487.1 536.0 488.4C537.0 489.7 538.0 491.1 539.0 492.6C540.0 494.0 541.0 495.6 542.0 497.2C543.0 498.8 544.0 500.5 545.0 502.1C546.0 503.7 547.0 505.1 548.0 507.0C549.0 508.8 550.0 510.9 551.0 513.1C552.0 515.4 553.0 517.9 554.0 520.3C555.0 522.7 556.0 525.3 557.0 527.4C558.0 529.6 559.0 531.5 560.0 533.3C561.0 535.1 562.0 536.6 563.0 538.2C564.0 539.9 565.0 541.5 566.0 543.1C567.0 544.8 568.0 546.5 569.0 548.0C570.0 549.6 571.0 551.1 572.0 552.5C573.0 553.9 574.0 555.3 575.0 556.7C576.0 558.1 577.0 559.5 578.0 560.8C579.0 562.1 580.0 563.4 581.0 564.5C582.0 565.5 583.0 566.1 584.0 566.9C585.0 567.8 586.0 568.6 587.0 569.4C588.0 570.3 589.0 571.2 590.0 571.9C591.0 572.6 592.0 573.5 593.0 573.5C594.0 573.5 595.0 572.7 596.0 572.2C597.0 571.7 598.0 571.2 599.0 570.6C600.0 570.0 601.0 569.2 602.0 568.6C603.0 567.9 604.0 566.9 605.0 566.5C606.0 566.1 607.0 565.8 608.0 566.3C609.0 566.7 610.0 567.8 611.0 569.1C612.0 570.4 613.0 572.2 614.0 574.0C615.0 575.7 616.0 577.8 617.0 579.3C618.0 580.9 619.0 582.1 620.0 583.4C621.0 584.6 622.0 585.1 623.0 586.8C624.0 588.4 625.0 590.3 626.0 593.4C627.0 596.5 628.0 601.2 629.0 605.1C630.0 609.0 631.0 612.8 632.0 616.6C633.0 620.4 634.5 626.1 635.0 628.0" stroke="#a4a4a4" stroke-width="1.5" fill="none"/>
<path d="M104.3 132.0C104.9 133.2 106.7 136.5 108.0 139.0C109.3 141.5 110.7 144.7 112.0 147.0C113.3 149.3 114.6 151.6 116.0 153.0C117.4 154.4 118.7 155.5 120.2 155.5C121.7 155.5 123.5 154.0 125.0 153.0C126.5 152.0 127.2 151.8 128.9 149.5C130.6 147.2 133.2 141.9 135.0 139.0C136.8 136.1 138.4 133.7 140.0 132.0C141.6 130.3 143.2 128.9 144.7 128.7C146.2 128.5 147.6 129.4 149.0 131.0C150.4 132.6 151.6 134.5 153.0 138.0C154.4 141.5 156.0 146.0 157.7 152.0C159.4 158.0 161.1 165.8 163.0 174.0C164.9 182.2 167.5 193.3 169.3 201.0C171.1 208.7 172.6 215.9 173.9 220.0C175.2 224.1 175.8 224.4 177.0 225.5C178.2 226.6 179.2 226.6 180.8 226.8C182.4 227.1 185.1 227.4 186.6 227.0C188.1 226.6 188.6 225.9 190.0 224.5C191.4 223.1 193.5 221.6 195.2 218.5C196.9 215.4 198.6 209.4 200.0 206.0C201.4 202.6 202.4 199.8 203.5 198.0C204.6 196.2 205.4 195.0 206.5 195.2C207.6 195.4 208.5 195.6 210.0 199.0C211.5 202.4 213.7 211.0 215.4 215.5C217.1 220.0 218.6 223.0 220.0 226.0C221.4 229.0 222.5 231.5 224.1 233.5C225.7 235.5 227.9 236.5 229.3 238.0C230.8 239.5 231.3 239.2 232.8 242.5C234.3 245.8 236.8 254.1 238.5 258.0C240.2 261.9 241.6 264.1 243.0 266.0C244.4 267.9 245.5 269.1 247.2 269.3C248.9 269.5 251.0 268.6 253.0 267.0C255.0 265.4 257.4 261.6 259.2 259.5C261.0 257.4 262.6 255.5 264.0 254.5C265.4 253.5 266.5 252.9 267.8 253.5C269.1 254.1 270.6 255.4 272.0 258.0C273.4 260.6 274.6 265.7 276.0 269.0C277.4 272.3 279.1 275.7 280.6 278.0C282.1 280.3 283.3 281.6 285.0 283.0C286.7 284.4 289.0 285.0 290.7 286.5C292.4 288.0 293.6 289.6 295.0 292.0C296.4 294.4 297.5 297.4 298.8 300.6C300.1 303.9 301.8 308.7 303.0 311.5C304.2 314.3 304.7 317.6 305.9 317.5C307.1 317.4 308.6 314.6 310.0 311.0C311.4 307.4 312.4 299.7 314.0 296.0C315.6 292.3 317.6 289.2 319.3 289.0C321.0 288.8 322.1 292.0 324.0 295.0C325.9 298.0 328.6 302.7 330.8 307.0C333.0 311.3 335.1 316.2 337.0 321.0C338.9 325.8 340.9 331.5 342.4 336.0C343.9 340.5 344.9 344.7 346.0 348.0C347.1 351.3 348.0 353.8 349.3 356.0C350.6 358.2 352.4 360.5 353.9 361.0C355.3 361.5 356.1 359.9 358.0 359.0C359.9 358.1 363.0 355.9 365.2 355.5C367.4 355.1 369.0 356.0 371.0 356.5C373.0 357.0 374.6 357.4 377.0 358.5C379.4 359.6 382.9 361.8 385.4 363.0C387.9 364.2 389.6 364.8 392.0 365.5C394.4 366.2 397.7 367.5 399.9 367.5C402.1 367.5 403.3 366.5 405.0 365.5C406.7 364.5 408.5 362.7 410.0 361.5C411.5 360.3 412.6 359.2 414.0 358.5C415.4 357.8 417.3 356.8 418.6 357.0C419.9 357.2 420.8 358.0 422.0 360.0C423.2 362.0 424.2 365.3 425.8 369.0C427.4 372.7 429.7 377.2 431.6 382.0C433.5 386.8 435.5 393.8 437.4 398.0C439.3 402.2 441.2 405.5 443.1 407.5C445.0 409.5 447.3 409.3 448.9 410.0C450.4 410.7 450.9 410.6 452.4 411.5C453.8 412.4 456.0 413.2 457.6 415.5C459.2 417.8 460.6 421.1 462.0 425.0C463.4 428.9 464.9 434.8 466.2 439.0C467.5 443.2 468.1 443.6 470.0 450.0C471.9 456.4 475.2 467.5 477.7 477.5C480.1 487.5 482.6 500.1 484.7 510.0C486.8 519.9 489.0 531.3 490.4 537.0C491.8 542.7 492.1 542.5 493.0 544.0C493.9 545.5 494.7 546.2 495.5 546.0C496.3 545.8 497.1 545.0 498.0 543.0C498.9 541.0 499.4 539.2 501.0 534.0C502.6 528.8 505.5 518.7 507.8 512.0C510.1 505.3 512.4 499.7 514.7 494.0C517.0 488.3 519.7 482.2 521.6 478.0C523.5 473.8 524.6 471.2 526.0 469.0C527.4 466.8 528.7 465.3 530.0 465.0C531.3 464.7 532.3 465.7 534.0 467.0C535.7 468.3 537.5 470.1 540.0 473.0C542.5 475.9 546.2 479.5 549.3 484.5C552.4 489.5 555.1 496.8 558.6 503.0C562.1 509.2 566.5 516.2 570.1 521.5C573.7 526.8 576.7 531.4 580.0 535.0C583.3 538.6 587.0 541.0 590.0 543.0C593.0 545.0 595.3 546.0 598.0 547.0C600.7 548.0 603.7 547.5 606.0 549.0C608.3 550.5 610.0 553.2 612.0 556.0C614.0 558.8 616.0 563.3 618.0 566.0C620.0 568.7 622.0 569.5 624.0 572.0C626.0 574.5 628.2 578.3 630.0 581.0C631.8 583.7 634.2 586.8 635.0 588.0" stroke="#111" stroke-width="1" fill="none"/>
<path d="M104.3 160.0C104.9 161.2 106.7 164.5 108.0 167.0C109.3 169.5 110.7 172.7 112.0 175.0C113.3 177.3 114.6 179.6 116.0 181.0C117.4 182.4 118.7 183.5 120.2 183.5C121.7 183.5 123.5 182.0 125.0 181.0C126.5 180.0 127.2 179.8 128.9 177.5C130.6 175.2 133.2 169.9 135.0 167.0C136.8 164.1 138.4 161.7 140.0 160.0C141.6 158.3 143.2 156.9 144.7 156.7C146.2 156.5 147.6 157.4 149.0 159.0C150.4 160.6 151.6 162.5 153.0 166.0C154.4 169.5 156.0 174.0 157.7 180.0C159.4 186.0 161.1 193.8 163.0 202.0C164.9 210.2 167.5 221.3 169.3 229.0C171.1 236.7 172.6 243.9 173.9 248.0C175.2 252.1 175.8 252.4 177.0 253.5C178.2 254.6 179.2 254.6 180.8 254.8C182.4 255.1 185.1 255.4 186.6 255.0C188.1 254.6 188.6 253.9 190.0 252.5C191.4 251.1 193.5 249.6 195.2 246.5C196.9 243.4 198.6 237.4 200.0 234.0C201.4 230.6 202.4 227.8 203.5 226.0C204.6 224.2 205.4 223.0 206.5 223.2C207.6 223.4 208.5 223.6 210.0 227.0C211.5 230.4 213.7 239.0 215.4 243.5C217.1 248.0 218.6 251.0 220.0 254.0C221.4 257.0 222.5 259.5 224.1 261.5C225.7 263.5 227.9 264.5 229.3 266.0C230.8 267.5 231.3 267.2 232.8 270.5C234.3 273.8 236.8 282.1 238.5 286.0C240.2 289.9 241.6 292.1 243.0 294.0C244.4 295.9 245.5 297.1 247.2 297.3C248.9 297.5 251.0 296.6 253.0 295.0C255.0 293.4 257.4 289.6 259.2 287.5C261.0 285.4 262.6 283.5 264.0 282.5C265.4 281.5 266.5 280.9 267.8 281.5C269.1 282.1 270.6 283.4 272.0 286.0C273.4 288.6 274.6 293.7 276.0 297.0C277.4 300.3 279.1 303.7 280.6 306.0C282.1 308.3 283.3 309.6 285.0 311.0C286.7 312.4 289.0 313.0 290.7 314.5C292.4 316.0 293.6 317.6 295.0 320.0C296.4 322.4 297.5 325.4 298.8 328.6C300.1 331.9 301.8 336.7 303.0 339.5C304.2 342.3 304.7 345.6 305.9 345.5C307.1 345.4 308.6 342.6 310.0 339.0C311.4 335.4 312.4 327.7 314.0 324.0C315.6 320.3 317.6 317.2 319.3 317.0C321.0 316.8 322.1 320.0 324.0 323.0C325.9 326.0 328.6 330.7 330.8 335.0C333.0 339.3 335.1 344.2 337.0 349.0C338.9 353.8 340.9 359.5 342.4 364.0C343.9 368.5 344.9 372.7 346.0 376.0C347.1 379.3 348.0 381.8 349.3 384.0C350.6 386.2 352.4 388.5 353.9 389.0C355.3 389.5 356.1 387.9 358.0 387.0C359.9 386.1 363.0 383.9 365.2 383.5C367.4 383.1 369.0 384.0 371.0 384.5C373.0 385.0 374.6 385.4 377.0 386.5C379.4 387.6 382.9 389.8 385.4 391.0C387.9 392.2 389.6 392.8 392.0 393.5C394.4 394.2 397.7 395.5 399.9 395.5C402.1 395.5 403.3 394.5 405.0 393.5C406.7 392.5 408.5 390.7 410.0 389.5C411.5 388.3 412.6 387.2 414.0 386.5C415.4 385.8 417.3 384.8 418.6 385.0C419.9 385.2 420.8 386.0 422.0 388.0C423.2 390.0 424.2 393.3 425.8 397.0C427.4 400.7 429.7 405.2 431.6 410.0C433.5 414.8 435.5 421.8 437.4 426.0C439.3 430.2 441.2 433.5 443.1 435.5C445.0 437.5 447.3 437.3 448.9 438.0C450.4 438.7 450.9 438.6 452.4 439.5C453.8 440.4 456.0 441.2 457.6 443.5C459.2 445.8 460.6 449.1 462.0 453.0C463.4 456.9 464.9 462.8 466.2 467.0C467.5 471.2 468.1 471.6 470.0 478.0C471.9 484.4 475.2 495.5 477.7 505.5C480.1 515.5 482.6 528.1 484.7 538.0C486.8 547.9 489.0 559.3 490.4 565.0C491.8 570.7 492.1 570.5 493.0 572.0C493.9 573.5 494.7 574.2 495.5 574.0C496.3 573.8 497.1 573.0 498.0 571.0C498.9 569.0 499.4 567.2 501.0 562.0C502.6 556.8 505.5 546.7 507.8 540.0C510.1 533.3 512.4 527.7 514.7 522.0C517.0 516.3 519.7 510.2 521.6 506.0C523.5 501.8 524.6 499.2 526.0 497.0C527.4 494.8 528.7 493.3 530.0 493.0C531.3 492.7 532.3 493.7 534.0 495.0C535.7 496.3 537.5 498.1 540.0 501.0C542.5 503.9 546.2 507.5 549.3 512.5C552.4 517.5 555.1 524.8 558.6 531.0C562.1 537.2 566.5 544.2 570.1 549.5C573.7 554.8 576.7 559.4 580.0 563.0C583.3 566.6 587.0 569.0 590.0 571.0C593.0 573.0 595.3 574.0 598.0 575.0C600.7 576.0 603.7 575.5 606.0 577.0C608.3 578.5 610.0 581.2 612.0 584.0C614.0 586.8 616.0 591.3 618.0 594.0C620.0 596.7 622.0 597.5 624.0 600.0C626.0 602.5 628.2 606.3 630.0 609.0C631.8 611.7 634.2 614.8 635.0 616.0" stroke="#111" stroke-width="1" fill="none"/>
<path d="M104.3 146.0C104.9 147.2 106.7 150.5 108.0 153.0C109.3 155.5 110.7 158.7 112.0 161.0C113.3 163.3 114.6 165.6 116.0 167.0C117.4 168.4 118.7 169.5 120.2 169.5C121.7 169.5 123.5 168.0 125.0 167.0C126.5 166.0 127.2 165.8 128.9 163.5C130.6 161.2 133.2 155.9 135.0 153.0C136.8 150.1 138.4 147.7 140.0 146.0C141.6 144.3 143.2 142.9 144.7 142.7C146.2 142.5 147.6 143.4 149.0 145.0C150.4 146.6 151.6 148.5 153.0 152.0C154.4 155.5 156.0 160.0 157.7 166.0C159.4 172.0 161.1 179.8 163.0 188.0C164.9 196.2 167.5 207.3 169.3 215.0C171.1 222.7 172.6 229.9 173.9 234.0C175.2 238.1 175.8 238.4 177.0 239.5C178.2 240.6 179.2 240.6 180.8 240.8C182.4 241.1 185.1 241.4 186.6 241.0C188.1 240.6 188.6 239.9 190.0 238.5C191.4 237.1 193.5 235.6 195.2 232.5C196.9 229.4 198.6 223.4 200.0 220.0C201.4 216.6 202.4 213.8 203.5 212.0C204.6 210.2 205.4 209.0 206.5 209.2C207.6 209.4 208.5 209.6 210.0 213.0C211.5 216.4 213.7 225.0 215.4 229.5C217.1 234.0 218.6 237.0 220.0 240.0C221.4 243.0 222.5 245.5 224.1 247.5C225.7 249.5 227.9 250.5 229.3 252.0C230.8 253.5 231.3 253.2 232.8 256.5C234.3 259.8 236.8 268.1 238.5 272.0C240.2 275.9 241.6 278.1 243.0 280.0C244.4 281.9 245.5 283.1 247.2 283.3C248.9 283.5 251.0 282.6 253.0 281.0C255.0 279.4 257.4 275.6 259.2 273.5C261.0 271.4 262.6 269.5 264.0 268.5C265.4 267.5 266.5 266.9 267.8 267.5C269.1 268.1 270.6 269.4 272.0 272.0C273.4 274.6 274.6 279.7 276.0 283.0C277.4 286.3 279.1 289.7 280.6 292.0C282.1 294.3 283.3 295.6 285.0 297.0C286.7 298.4 289.0 299.0 290.7 300.5C292.4 302.0 293.6 303.6 295.0 306.0C296.4 308.4 297.5 311.4 298.8 314.6C300.1 317.9 301.8 322.7 303.0 325.5C304.2 328.3 304.7 331.6 305.9 331.5C307.1 331.4 308.6 328.6 310.0 325.0C311.4 321.4 312.4 313.7 314.0 310.0C315.6 306.3 317.6 303.2 319.3 303.0C321.0 302.8 322.1 306.0 324.0 309.0C325.9 312.0 328.6 316.7 330.8 321.0C333.0 325.3 335.1 330.2 337.0 335.0C338.9 339.8 340.9 345.5 342.4 350.0C343.9 354.5 344.9 358.7 346.0 362.0C347.1 365.3 348.0 367.8 349.3 370.0C350.6 372.2 352.4 374.5 353.9 375.0C355.3 375.5 356.1 373.9 358.0 373.0C359.9 372.1 363.0 369.9 365.2 369.5C367.4 369.1 369.0 370.0 371.0 370.5C373.0 371.0 374.6 371.4 377.0 372.5C379.4 373.6 382.9 375.8 385.4 377.0C387.9 378.2 389.6 378.8 392.0 379.5C394.4 380.2 397.7 381.5 399.9 381.5C402.1 381.5 403.3 380.5 405.0 379.5C406.7 378.5 408.5 376.7 410.0 375.5C411.5 374.3 412.6 373.2 414.0 372.5C415.4 371.8 417.3 370.8 418.6 371.0C419.9 371.2 420.8 372.0 422.0 374.0C423.2 376.0 424.2 379.3 425.8 383.0C427.4 386.7 429.7 391.2 431.6 396.0C433.5 400.8 435.5 407.8 437.4 412.0C439.3 416.2 441.2 419.5 443.1 421.5C445.0 423.5 447.3 423.3 448.9 424.0C450.4 424.7 450.9 424.6 452.4 425.5C453.8 426.4 456.0 427.2 457.6 429.5C459.2 431.8 460.6 435.1 462.0 439.0C463.4 442.9 464.9 448.8 466.2 453.0C467.5 457.2 468.1 457.6 470.0 464.0C471.9 470.4 475.2 481.5 477.7 491.5C480.1 501.5 482.6 514.1 484.7 524.0C486.8 533.9 489.0 545.3 490.4 551.0C491.8 556.7 492.1 556.5 493.0 558.0C493.9 559.5 494.7 560.2 495.5 560.0C496.3 559.8 497.1 559.0 498.0 557.0C498.9 555.0 499.4 553.2 501.0 548.0C502.6 542.8 505.5 532.7 507.8 526.0C510.1 519.3 512.4 513.7 514.7 508.0C517.0 502.3 519.7 496.2 521.6 492.0C523.5 487.8 524.6 485.2 526.0 483.0C527.4 480.8 528.7 479.3 530.0 479.0C531.3 478.7 532.3 479.7 534.0 481.0C535.7 482.3 537.5 484.1 540.0 487.0C542.5 489.9 546.2 493.5 549.3 498.5C552.4 503.5 555.1 510.8 558.6 517.0C562.1 523.2 566.5 530.2 570.1 535.5C573.7 540.8 576.7 545.4 580.0 549.0C583.3 552.6 587.0 555.0 590.0 557.0C593.0 559.0 595.3 560.0 598.0 561.0C600.7 562.0 603.7 561.5 606.0 563.0C608.3 564.5 610.0 567.2 612.0 570.0C614.0 572.8 616.0 577.3 618.0 580.0C620.0 582.7 622.0 583.5 624.0 586.0C626.0 588.5 628.2 592.3 630.0 595.0C631.8 597.7 634.2 600.8 635.0 602.0" stroke="#050505" stroke-width="2.1" fill="none"/>
<g fill="#fff" stroke="#0c0c0c" stroke-width="1.1">
<circle cx="106.2" cy="124.3" r="2.0"/>
<circle cx="110.4" cy="148.5" r="2.0"/>
<circle cx="109.7" cy="158.2" r="2.0"/>
<circle cx="116.6" cy="180.9" r="2.0"/>
<circle cx="109.7" cy="196.6" r="2.0"/>
<circle cx="121.9" cy="126.6" r="2.0"/>
<circle cx="120.8" cy="190.8" r="2.0"/>
<circle cx="127.3" cy="171.2" r="2.0"/>
<circle cx="132.3" cy="123.6" r="2.0"/>
<circle cx="131.2" cy="149.0" r="2.0"/>
<circle cx="138.1" cy="170.0" r="2.0"/>
<circle cx="142.0" cy="85.0" r="2.0"/>
<circle cx="143.2" cy="108.1" r="2.0"/>
<circle cx="148.5" cy="102.3" r="2.0"/>
<circle cx="152.7" cy="148.5" r="2.0"/>
<circle cx="154.3" cy="160.0" r="2.0"/>
<circle cx="159.4" cy="157.3" r="2.0"/>
<circle cx="163.5" cy="185.8" r="2.0"/>
<circle cx="164.7" cy="201.2" r="2.0"/>
<circle cx="169.7" cy="201.2" r="2.0"/>
<circle cx="195.2" cy="217.0" r="2.0"/>
<circle cx="201.6" cy="190.2" r="2.0"/>
<circle cx="205.5" cy="180.6" r="2.0"/>
<circle cx="206.7" cy="162.8" r="2.0"/>
<circle cx="213.2" cy="152.0" r="2.0"/>
<circle cx="218.9" cy="182.0" r="2.0"/>
<circle cx="224.3" cy="221.6" r="2.0"/>
<circle cx="237.4" cy="217.0" r="2.0"/>
<circle cx="250.6" cy="208.3" r="2.0"/>
<circle cx="173.9" cy="238.1" r="2.0"/>
<circle cx="175.0" cy="247.3" r="2.0"/>
<circle cx="180.3" cy="243.9" r="2.0"/>
<circle cx="184.3" cy="243.9" r="2.0"/>
<circle cx="185.9" cy="253.1" r="2.0"/>
<circle cx="191.2" cy="237.0" r="2.0"/>
<circle cx="196.5" cy="232.3" r="2.0"/>
<circle cx="216.6" cy="285.4" r="2.0"/>
<circle cx="226.5" cy="249.0" r="2.0"/>
<circle cx="230.4" cy="249.0" r="2.0"/>
<circle cx="234.6" cy="249.0" r="2.0"/>
<circle cx="240.8" cy="273.2" r="2.0"/>
<circle cx="245.5" cy="293.5" r="2.0"/>
<circle cx="247.8" cy="238.1" r="2.0"/>
<circle cx="258.6" cy="275.0" r="2.0"/>
<circle cx="265.0" cy="187.3" r="2.0"/>
<circle cx="270.8" cy="239.3" r="2.0"/>
<circle cx="275.9" cy="252.0" r="2.0"/>
<circle cx="281.2" cy="243.9" r="2.0"/>
<circle cx="291.6" cy="238.1" r="2.0"/>
<circle cx="268.9" cy="264.7" r="2.0"/>
<circle cx="271.9" cy="268.1" r="2.0"/>
<circle cx="266.2" cy="288.9" r="2.0"/>
<circle cx="261.5" cy="303.5" r="2.0"/>
<circle cx="286.5" cy="282.0" r="2.0"/>
<circle cx="293.4" cy="284.8" r="2.0"/>
<circle cx="297.3" cy="271.6" r="2.0"/>
<circle cx="302.7" cy="266.5" r="2.0"/>
<circle cx="307.7" cy="259.6" r="2.0"/>
<circle cx="312.8" cy="259.6" r="2.0"/>
<circle cx="314.7" cy="273.2" r="2.0"/>
<circle cx="318.6" cy="239.3" r="2.0"/>
<circle cx="323.9" cy="273.2" r="2.0"/>
<circle cx="320.0" cy="294.7" r="2.0"/>
<circle cx="311.2" cy="302.1" r="2.0"/>
<circle cx="322.3" cy="302.1" r="2.0"/>
<circle cx="329.2" cy="302.1" r="2.0"/>
<circle cx="333.1" cy="264.7" r="2.0"/>
<circle cx="334.7" cy="273.2" r="2.0"/>
<circle cx="287.6" cy="302.1" r="2.0"/>
<circle cx="298.5" cy="306.2" r="2.0"/>
<circle cx="277.7" cy="312.7" r="2.0"/>
<circle cx="283.0" cy="310.4" r="2.0"/>
<circle cx="300.8" cy="317.8" r="2.0"/>
<circle cx="280.0" cy="328.2" r="2.0"/>
<circle cx="325.0" cy="316.6" r="2.0"/>
<circle cx="339.6" cy="310.4" r="2.0"/>
<circle cx="335.9" cy="322.4" r="2.0"/>
<circle cx="367.3" cy="291.2" r="2.0"/>
<circle cx="372.8" cy="321.2" r="2.0"/>
<circle cx="383.2" cy="324.4" r="2.0"/>
<circle cx="388.5" cy="322.2" r="2.0"/>
<circle cx="356.9" cy="327.7" r="2.0"/>
<circle cx="255.8" cy="343.6" r="2.0"/>
<circle cx="290.9" cy="360.4" r="2.0"/>
<circle cx="309.4" cy="341.3" r="2.0"/>
<circle cx="303.8" cy="420.0" r="2.0"/>
<circle cx="330.4" cy="351.9" r="2.0"/>
<circle cx="341.2" cy="340.8" r="2.0"/>
<circle cx="345.1" cy="343.1" r="2.0"/>
<circle cx="346.5" cy="387.0" r="2.0"/>
<circle cx="351.6" cy="335.7" r="2.0"/>
<circle cx="350.5" cy="359.3" r="2.0"/>
<circle cx="355.1" cy="355.1" r="2.0"/>
<circle cx="355.5" cy="370.4" r="2.0"/>
<circle cx="360.9" cy="352.8" r="2.0"/>
<circle cx="365.0" cy="370.8" r="2.0"/>
<circle cx="366.2" cy="377.8" r="2.0"/>
<circle cx="371.7" cy="356.5" r="2.0"/>
<circle cx="375.9" cy="370.8" r="2.0"/>
<circle cx="377.0" cy="387.0" r="2.0"/>
<circle cx="378.2" cy="350.0" r="2.0"/>
<circle cx="382.1" cy="344.7" r="2.0"/>
<circle cx="387.9" cy="391.6" r="2.0"/>
<circle cx="392.7" cy="351.9" r="2.0"/>
<circle cx="394.3" cy="381.2" r="2.0"/>
<circle cx="396.6" cy="387.0" r="2.0"/>
<circle cx="397.8" cy="374.3" r="2.0"/>
<circle cx="399.4" cy="339.0" r="2.0"/>
<circle cx="403.6" cy="337.3" r="2.0"/>
<circle cx="404.3" cy="376.6" r="2.0"/>
<circle cx="407.5" cy="339.0" r="2.0"/>
<circle cx="408.9" cy="369.7" r="2.0"/>
<circle cx="413.8" cy="323.5" r="2.0"/>
<circle cx="417.7" cy="333.4" r="2.0"/>
<circle cx="418.9" cy="355.1" r="2.0"/>
<circle cx="424.6" cy="354.2" r="2.0"/>
<circle cx="430.0" cy="330.4" r="2.0"/>
<circle cx="445.4" cy="399.0" r="2.0"/>
<circle cx="451.2" cy="396.7" r="2.0"/>
<circle cx="440.3" cy="417.0" r="2.0"/>
<circle cx="435.7" cy="428.6" r="2.0"/>
<circle cx="457.0" cy="423.3" r="2.0"/>
<circle cx="462.0" cy="431.3" r="2.0"/>
<circle cx="472.4" cy="425.6" r="2.0"/>
<circle cx="467.4" cy="447.0" r="2.0"/>
<circle cx="386.3" cy="450.6" r="2.0"/>
<circle cx="483.5" cy="498.0" r="2.0"/>
<circle cx="477.7" cy="508.2" r="2.0"/>
<circle cx="488.6" cy="542.4" r="2.0"/>
<circle cx="493.7" cy="588.3" r="2.0"/>
<circle cx="498.5" cy="570.6" r="2.0"/>
<circle cx="503.8" cy="505.0" r="2.0"/>
<circle cx="509.6" cy="528.0" r="2.0"/>
<circle cx="514.7" cy="525.0" r="2.0"/>
<circle cx="520.0" cy="479.4" r="2.0"/>
<circle cx="525.8" cy="468.5" r="2.0"/>
<circle cx="530.9" cy="460.4" r="2.0"/>
<circle cx="536.2" cy="507.3" r="2.0"/>
<circle cx="541.2" cy="478.2" r="2.0"/>
<circle cx="546.6" cy="502.7" r="2.0"/>
<circle cx="552.0" cy="494.4" r="2.0"/>
<circle cx="557.4" cy="466.7" r="2.0"/>
<circle cx="562.7" cy="468.5" r="2.0"/>
<circle cx="567.8" cy="542.4" r="2.0"/>
<circle cx="569.7" cy="533.2" r="2.0"/>
<circle cx="573.6" cy="535.5" r="2.0"/>
<circle cx="574.5" cy="574.0" r="2.0"/>
<circle cx="578.9" cy="577.2" r="2.0"/>
<circle cx="584.1" cy="522.8" r="2.0"/>
<circle cx="596.0" cy="521.9" r="2.0"/>
<circle cx="601.0" cy="533.5" r="2.0"/>
<circle cx="611.3" cy="542.5" r="2.0"/>
<circle cx="617.0" cy="542.5" r="2.0"/>
<circle cx="590.3" cy="548.1" r="2.0"/>
<circle cx="579.8" cy="552.8" r="2.0"/>
<circle cx="606.6" cy="554.7" r="2.0"/>
<circle cx="632.9" cy="561.3" r="2.0"/>
<circle cx="585.0" cy="572.2" r="2.0"/>
<circle cx="594.4" cy="581.0" r="2.0"/>
<circle cx="599.7" cy="581.0" r="2.0"/>
<circle cx="616.0" cy="583.4" r="2.0"/>
<circle cx="622.2" cy="588.5" r="2.0"/>
<circle cx="626.3" cy="588.5" r="2.0"/>
<circle cx="631.6" cy="594.1" r="2.0"/>
<circle cx="627.6" cy="597.0" r="2.0"/>
</g>
</g>
<rect x="104.0" y="37.7" width="531.0" height="636.0" fill="none" stroke="#000" stroke-width="1.8"/>
<g stroke="#000" stroke-width="1.3">
<line x1="99.8" y1="673.7" x2="104.0" y2="673.7"/>
<line x1="99.8" y1="567.7" x2="104.0" y2="567.7"/>
<line x1="99.8" y1="461.7" x2="104.0" y2="461.7"/>
<line x1="99.8" y1="355.7" x2="104.0" y2="355.7"/>
<line x1="99.8" y1="249.7" x2="104.0" y2="249.7"/>
<line x1="99.8" y1="143.7" x2="104.0" y2="143.7"/>
<line x1="99.8" y1="37.7" x2="104.0" y2="37.7"/>
<line x1="104.0" y1="673.7" x2="104.0" y2="677.1"/>
<line x1="210.2" y1="673.7" x2="210.2" y2="677.1"/>
<line x1="316.4" y1="673.7" x2="316.4" y2="677.1"/>
<line x1="422.6" y1="673.7" x2="422.6" y2="677.1"/>
<line x1="528.8" y1="673.7" x2="528.8" y2="677.1"/>
<line x1="635.0" y1="673.7" x2="635.0" y2="677.1"/>
</g>
<g text-anchor="end">
<text x="91.6" y="677.7">1600</text>
<text x="91.6" y="571.7">1700</text>
<text x="91.6" y="465.7">1800</text>
<text x="91.6" y="359.7">1900</text>
<text x="91.6" y="253.7">2000</text>
<text x="91.6" y="147.7">2100</text>
<text x="91.6" y="41.7">2200</text>
</g>
<g text-anchor="middle">
<text x="104.5" y="694.1">100BC</text>
<text x="210.7" y="694.1">BC/AD</text>
<text x="316.9" y="694.1">AD100</text>
<text x="423.1" y="694.1">AD200</text>
<text x="529.3" y="694.1">AD300</text>
<text x="635.5" y="694.1">AD400</text>
<text x="369.8" y="714">calendar age (cal)</text>
<text transform="translate(48.2 355.5) rotate(-90)" style="letter-spacing:0.4px">radiocarbon age (<tspan dy="-4.6" style="font-size:9px">14</tspan><tspan dy="4.6">C BP)</tspan></text>
</g>
</svg></body></html>
